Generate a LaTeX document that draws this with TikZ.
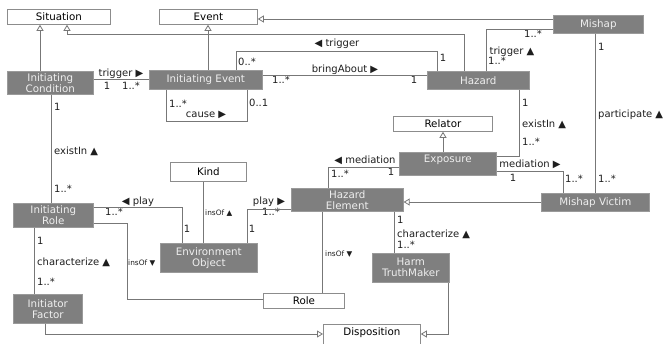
\documentclass[tikz,border=0pt]{standalone}
\usepackage{fontspec}
\setmainfont{DejaVu Sans}
\usetikzlibrary{arrows.meta}
\definecolor{boxgray}{HTML}{7F7F7F}
\definecolor{boxedge}{HTML}{9A9A9A}
\definecolor{linegray}{HTML}{777777}
\definecolor{wedge}{HTML}{8C8C8C}
\definecolor{btext}{HTML}{EFEFEF}
\definecolor{ltext}{HTML}{1E1E1E}
\begin{document}
\begin{tikzpicture}[x=1pt,y=-1pt,
  base/.style={anchor=north west, inner sep=0pt, align=center, font=\fontsize{10.3}{11}\selectfont},
  gbox/.style={base, fill=boxgray, draw=boxedge, line width=0.6pt, text=btext},
  wbox/.style={base, fill=white, draw=wedge, line width=0.8pt, text=black},
  conn/.style={draw=linegray, line width=0.8pt},
  gen/.style={conn, -{Triangle[length=6pt,width=7pt,fill=white]}},
  lbl/.style={inner sep=0pt, text=ltext, text height=7.5pt, text depth=2pt, font=\fontsize{10}{11}\selectfont},
  sml/.style={inner sep=0pt, text=ltext, font=\fontsize{7.4}{8}\selectfont},
]
\useasboundingbox (0,0) rectangle (664,343);
% classes
\node[wbox, minimum width=103pt, minimum height=15pt] (sit) at (7,9) {Situation};
\node[wbox, minimum width=98pt, minimum height=15pt] (evt) at (159,9) {Event};
\node[gbox, minimum width=86pt, minimum height=23pt] (ic) at (7,71) {Initiating\\Condition};
\node[gbox, minimum width=113pt, minimum height=19pt] (ie) at (149,70) {Initiating Event};
\node[gbox, minimum width=102pt, minimum height=18pt] (haz) at (427,71) {Hazard};
\node[gbox, minimum width=90pt, minimum height=18pt] (mis) at (553,15) {Mishap};
\node[wbox, minimum width=99pt, minimum height=15pt] (rel) at (393,116) {Relator};
\node[gbox, minimum width=97pt, minimum height=23pt, text depth=9.5pt] (exp) at (399,152) {Exposure};
\node[wbox, minimum width=76pt, minimum height=19pt] (kind) at (170,162) {Kind};
\node[gbox, minimum width=80pt, minimum height=24pt] (ir) at (13,203) {Initiating\\Role};
\node[gbox, minimum width=112pt, minimum height=23pt] (he) at (291,188) {Hazard\\Element};
\node[gbox, minimum width=108pt, minimum height=18pt] (mv) at (541,193) {Mishap Victim};
\node[gbox, minimum width=97pt, minimum height=29pt] (eo) at (160,243) {Environment\\Object};
\node[gbox, minimum width=77pt, minimum height=29pt] (htm) at (372,253) {Harm\\TruthMaker};
\node[wbox, minimum width=81pt, minimum height=15pt] (role) at (263,293) {Role};
\node[gbox, minimum width=69pt, minimum height=29pt] (ifac) at (13,294) {Initiator\\Factor};
\node[wbox, minimum width=97pt, minimum height=22pt, text depth=7pt] (disp) at (323,324) {Disposition};
% labels
\node[lbl] (t1) at (121,74) {trigger ▶};
\node[lbl] (t2) at (107,87) {1};
\node[lbl] (t3) at (131,87) {1..*};
\node[lbl] (t4) at (345,70) {bringAbout ▶};
\node[lbl] (t5) at (281,81) {1..*};
\node[lbl] (t6) at (414,81) {1};
\node[lbl] (t7) at (337,44) {◀ trigger};
\node[lbl] (t8) at (247,63) {0..*};
\node[lbl] (t9) at (443,59) {1};
\node[lbl] (t10) at (512,52) {trigger ▲};
\node[lbl] (t11) at (533,35) {1..*};
\node[lbl] (t12) at (497,62) {1..*};
\node[lbl,anchor=west] (t13) at (598,48) {1};
\node[lbl,anchor=west] (t14) at (598,115) {participate ▲};
\node[lbl,anchor=west] (t15) at (598,180) {1..*};
\node[lbl,anchor=west] (t16) at (522,104) {1};
\node[lbl,anchor=west] (t17) at (522,125) {existIn ▲};
\node[lbl,anchor=west] (t18) at (522,143) {1..*};
\node[lbl] (t19) at (530,165) {mediation ▶};
\node[lbl] (t20) at (513,179) {1};
\node[lbl] (t21) at (574,180) {1..*};
\node[lbl] (t22) at (365,161) {◀ mediation};
\node[lbl] (t23) at (391,173) {1};
\node[lbl] (t24) at (340,175) {1..*};
\node[lbl,anchor=west] (t25) at (397,221) {1};
\node[lbl,anchor=west] (t26) at (397,235) {characterize ▲};
\node[lbl,anchor=west] (t27) at (397,246) {1..*};
\node[sml,anchor=west] (t28) at (325,254) {insOf ▼};
\node[sml,anchor=west] (t29) at (128,263) {insOf ▼};
\node[lbl,anchor=west] (t30) at (54,108) {1};
\node[lbl,anchor=west] (t31) at (54,152) {existIn ▲};
\node[lbl,anchor=west] (t32) at (54,190) {1..*};
\node[lbl,anchor=west] (t33) at (169,105) {1..*};
\node[lbl,anchor=west] (t34) at (249,104) {0..1};
\node[lbl] (t35) at (206,115) {cause ▶};
\node[sml,anchor=west] (t36) at (205,213) {insOf ▲};
\node[lbl] (t37) at (138,202) {◀ play};
\node[lbl] (t38) at (114,213) {1..*};
\node[lbl] (t39) at (187,230) {1};
\node[lbl] (t40) at (269,202) {play ▶};
\node[lbl] (t41) at (271,213) {1..*};
\node[lbl] (t42) at (252,230) {1};
\node[lbl,anchor=west] (t43) at (37,242) {1};
\node[lbl,anchor=west] (t44) at (37,263) {characterize ▲};
\node[lbl,anchor=west] (t45) at (37,283) {1..*};
% generalizations
\draw[gen] (ic.north -| 40,0) -- (sit.south -| 40,0);
\draw[gen] (haz.north -| 464,0) |- (67,34) -- (sit.south -| 67,0);
\draw[gen] (ie.north -| 208,0) -- (evt.south -| 208,0);
\draw[gen] (mis.west |- 0,19) -- (evt.east |- 0,19);
\draw[gen] (exp.north -| 443,0) -- (rel.south -| 443,0);
\draw[gen] (mv.west |- 0,202) -- (he.east |- 0,202);
\draw[gen] (ifac.south -| 45,0) |- (disp.west |- 0,334);
\draw[gen] (htm.south -| 448,0) |- (disp.east |- 0,334);
% associations
\draw[conn] (ic.east |- 0,79) -- (ie.west |- 0,79);
\draw[conn] (ie.east |- 0,75) -- (haz.west |- 0,75);
\draw[conn] (ie.north -| 236,0) |- (437,51) -- (haz.north -| 437,0);
\draw[conn] (haz.north -| 486,0) |- (mis.west |- 0,29);
\draw[conn] (mis.south -| 595,0) -- (mv.north -| 595,0);
\draw[conn] (haz.south -| 519,0) |- (exp.east |- 0,156);
\draw[conn] (exp.east |- 0,171) -| (mv.north -| 563,0);
\draw[conn] (exp.west |- 0,167) -| (he.north -| 328,0);
\draw[conn] (he.south -| 394,0) -- (htm.north -| 394,0);
\draw[conn] (he.south -| 322,0) -- (role.north -| 322,0);
\draw[conn] (ir.east |- 0,223) -| (127,299) -- (role.west |- 0,299);
\draw[conn] (ic.south -| 51,0) -- (ir.north -| 51,0);
\draw[conn] (ie.south -| 166,0) |- (247,121) -- (ie.south -| 247,0);
\draw[conn] (eo.north -| 203,0) -- (kind.south -| 203,0);
\draw[conn] (ir.east |- 0,207) -| (eo.north -| 182,0);
\draw[conn] (eo.north -| 247,0) |- (he.west |- 0,209);
\draw[conn] (ir.south -| 34,0) -- (ifac.north -| 34,0);
\end{tikzpicture}
\end{document}
